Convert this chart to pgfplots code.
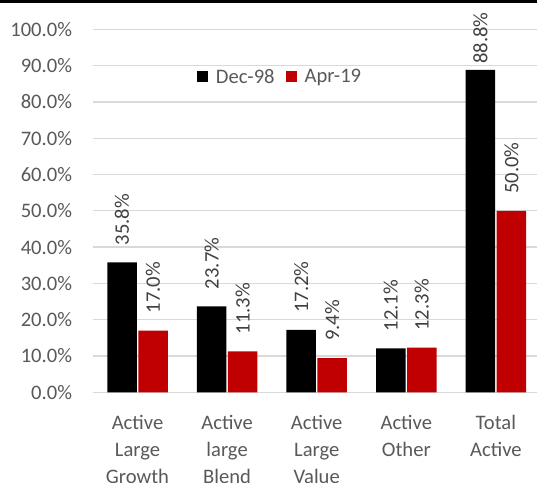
\documentclass[border=0pt]{standalone}
\usepackage{pgfplots}
\usepackage{pgfplotstable}
\pgfplotsset{compat=1.18}
\usepackage{fontspec}
\setmainfont{Carlito}

\definecolor{barred}{HTML}{C00000}
\definecolor{gridgray}{HTML}{D9D9D9}
\definecolor{ticktext}{HTML}{595959}
\definecolor{labeltext}{HTML}{404040}

% share of assets: x = category index, y = percent, gap = label distance above bar (pt)
\pgfplotstableread{
x y gap
0 35.8 17
1 23.7 17
2 17.2 17
3 12.1 17
4 88.8 6
}\decdata
\pgfplotstableread{
x y gap
0 17.0 17
1 11.3 17
2 9.4 17
3 12.3 17
4 50.0 17
}\aprdata

\newcommand{\chartfont}{\fontsize{20.6}{26.7}\selectfont}

\begin{document}
\begin{tikzpicture}[x=1pt,y=1pt]
\useasboundingbox (0,0) rectangle (537,482);
\clip (0,0) rectangle (537,482);
\begin{axis}[
  at={(92.7pt,89.7pt)}, anchor=south west,
  scale only axis, width=448pt, height=363pt,
  xmin=-0.5, xmax=4.5, ymin=0, ymax=100,
  ybar=1.5pt, bar width=29.5pt,
  axis line style={draw=none},
  major tick length=0pt,
  ymajorgrids, grid style={gridgray, line width=1.3pt},
  ytick={0,10,...,100},
  yticklabels={0.0\%,10.0\%,20.0\%,30.0\%,40.0\%,50.0\%,60.0\%,70.0\%,80.0\%,90.0\%,100.0\%},
  yticklabel style={font=\chartfont, text=ticktext, anchor=east, inner sep=0pt, xshift=-20.5pt},
  xtick={0,1,2,3,4},
  xticklabels={{Active\\Large\\Growth},{Active\\large\\Blend},{Active\\Large\\Value},{Active\\Other},{Total\\Active}},
  xticklabel style={font=\chartfont, text=ticktext, align=center, anchor=north, inner sep=0pt, yshift=-23pt},
  /pgf/number format/assume math mode=true,
  visualization depends on={\thisrow{gap} \as \labelgap},
  nodes near coords={\pgfmathprintnumber[fixed,fixed zerofill,precision=1]{\pgfplotspointmeta}\%},
  nodes near coords style={rotate=90, anchor=west, inner ysep=0pt, inner xsep=\labelgap pt, font=\chartfont, text=labeltext},
  legend columns=2,
  legend style={at={(0.232,0.869)}, anchor=west, draw=none, fill=none, inner sep=0pt,
    font=\chartfont, text=ticktext,
    /tikz/every odd column/.append style={column sep=6pt},
    /tikz/every even column/.append style={column sep=9pt}},
  sqlegend/.style={legend image code/.code={\fill[##1] (0pt,-5.5pt) rectangle (11pt,5.5pt);}},
]
\addplot[fill=black, draw=none, sqlegend] table[x=x, y=y] {\decdata};
\addlegendentry{Dec-98}
\addplot[fill=barred, draw=none, sqlegend] table[x=x, y=y] {\aprdata};
\addlegendentry{Apr-19}
\end{axis}
\fill[black] (0,479) rectangle (537,482);
\end{tikzpicture}
\end{document}
